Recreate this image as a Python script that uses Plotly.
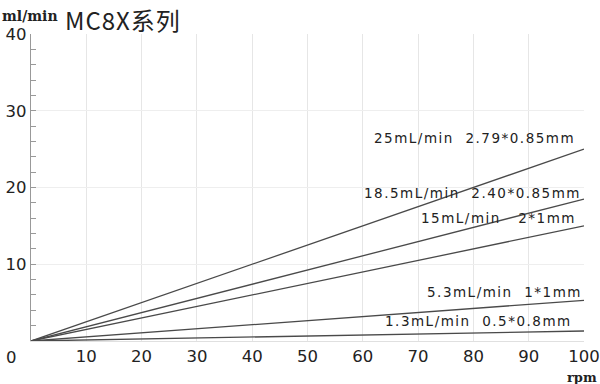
import plotly.graph_objects as go

rpm = [0, 100]
series_names = ["25mL/min  2.79*0.85mm", "18.5mL/min  2.40*0.85mm", "15mL/min  2*1mm",
                "5.3mL/min  1*1mm", "1.3mL/min  0.5*0.8mm"]
flow_at_100 = [25, 18.5, 15, 5.3, 1.3]
x_ticks = [10, 20, 30, 40, 50, 60, 70, 80, 90, 100]
y_ticks = [10, 20, 30, 40]
unit_text = "ml/min"
title_text = "MC8X系列"

# page layout in pixels
W, H = 600, 384
PL, PR, PT, PB = 31, 584, 34, 341
L, R, T, B = PL, W - PR, PT, H - PB

def px(x):
    return (x - PL) / (PR - PL)

def py(y):
    return (PB - y) / (PB - PT)

# label placement: right edge / vertical centre in pixels, and gap width in spaces
label_pos = [(577, 138), (583, 193), (578, 218), (584, 292), (574, 321)]
label_gap = [2, 2, 3, 2, 2]

fig = go.Figure()
for name, v in zip(series_names, flow_at_100):
    fig.add_trace(go.Scatter(x=rpm, y=[0, v], mode="lines",
                             line=dict(color="#4a4a4a", width=1.3),
                             name=name, showlegend=False, hoverinfo="skip"))

font = "DejaVu Sans, sans-serif"
for name, (lx, ly), gap in zip(series_names, label_pos, label_gap):
    a, b = name.split("  ")
    txt = a + "\u00a0" * gap + b
    fig.add_annotation(x=px(lx), y=py(ly), xref="paper", yref="paper",
                       text="<span style='letter-spacing:1.5px'>" + txt + "</span>",
                       showarrow=False, xanchor="right", yanchor="middle",
                       font=dict(family=font, size=13.5, color="#222"))

fig.add_annotation(x=px(4), y=py(357), xref="paper", yref="paper", text="0", showarrow=False,
                   xanchor="left", yanchor="middle", font=dict(family=font, size=16.5, color="#222"))
fig.add_annotation(x=px(599), y=py(377), xref="paper", yref="paper", text="<b>rpm</b>", showarrow=False,
                   xanchor="right", yanchor="middle",
                   font=dict(family="DejaVu Serif, Liberation Serif, serif", size=13, color="#222"))
fig.add_annotation(x=px(0), y=py(16), xref="paper", yref="paper", text="<b>" + unit_text + "</b>",
                   showarrow=False, xanchor="left", yanchor="middle",
                   font=dict(family="DejaVu Serif, Liberation Serif, serif", size=14, color="#222"))
fig.add_annotation(x=px(63), y=py(0), xref="paper", yref="paper",
                   text="<span style='letter-spacing:1px'>" + title_text + "</span>",
                   showarrow=False, xanchor="left", yanchor="top",
                   font=dict(family="Noto Sans CJK SC, sans-serif", size=24, color="#222"))

fig.update_layout(
    width=W, height=H, margin=dict(l=L, r=R, t=T, b=B, autoexpand=False),
    plot_bgcolor="white", paper_bgcolor="white",
    xaxis=dict(range=[0, 100], tickvals=x_ticks, ticktext=[str(t) for t in x_ticks],
               showgrid=True, gridcolor="#e6e6e6", gridwidth=1, zeroline=False,
               showline=True, linecolor="#e0e0e0", ticks="", automargin=False,
               tickfont=dict(family=font, size=16.5, color="#222")),
    yaxis=dict(range=[0, 40], tickvals=y_ticks, ticktext=[str(t) for t in y_ticks],
               showgrid=True, gridcolor="#eeeeee", gridwidth=1, zeroline=False,
               showline=True, linecolor="#999", linewidth=1.2, automargin=False,
               ticks="inside", ticklen=5, tickcolor="#999",
               minor=dict(dtick=2, ticks="inside", ticklen=5, tickcolor="#999", showgrid=False),
               tickfont=dict(family=font, size=16.5, color="#222")),
)

fig.write_html("out.html", config={"displayModeBar": False},
               post_script="document.body.style.margin='0';")
